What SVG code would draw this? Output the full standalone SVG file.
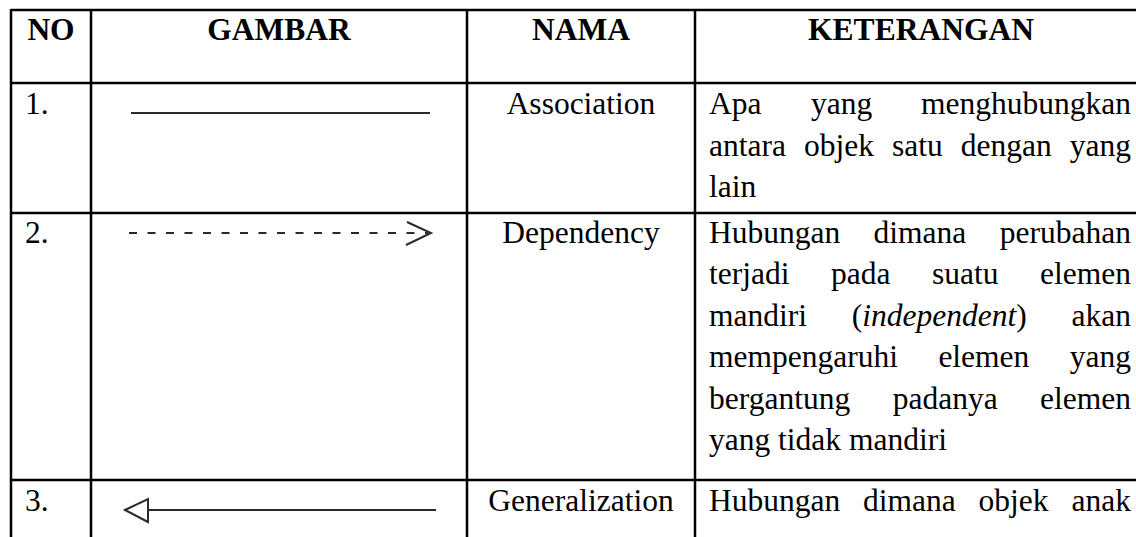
<svg xmlns="http://www.w3.org/2000/svg" width="1136" height="537" viewBox="0 0 1136 537">
  <style>
    text { font-family: "Liberation Serif", "Times New Roman", serif; font-size: 31.5px; fill: #000; }
    .hd { font-weight: bold; text-anchor: middle; }
    .c { text-anchor: middle; }
    .e { text-anchor: end; }
    .it { font-style: italic; }
    .grid line { stroke: #000; stroke-width: 2.5; }
    .sym { stroke: #2a2a2a; stroke-width: 2; fill: none; }
  </style>

  <rect width="1136" height="537" fill="#fff"/>

  <!-- table grid -->
  <g id="grid" class="grid">
    <line x1="11" y1="10" x2="1136" y2="10"/>
    <line x1="11" y1="83" x2="1136" y2="83"/>
    <line x1="11" y1="213" x2="1136" y2="213"/>
    <line x1="11" y1="480" x2="1136" y2="480"/>
    <line x1="11" y1="9" x2="11" y2="537"/>
    <line x1="91" y1="9" x2="91" y2="537"/>
    <line x1="467" y1="9" x2="467" y2="537"/>
    <line x1="695" y1="9" x2="695" y2="537"/>
  </g>

  <!-- header row -->
  <g id="header">
    <text class="hd" x="51" y="40">NO</text>
    <text class="hd" x="279" y="40">GAMBAR</text>
    <text class="hd" x="581" y="40">NAMA</text>
    <text class="hd" x="921" y="40">KETERANGAN</text>
  </g>

  <!-- row 1: association -->
  <g id="row-association">
    <text x="25" y="114">1.</text>
    <text class="c" x="581" y="114">Association</text>
    <text x="709" y="114">Apa</text>
    <text x="811" y="114">yang</text>
    <text class="e" x="1131" y="114">menghubungkan</text>
    <text x="709" y="155.5">antara</text>
    <text x="804" y="155.5">objek</text>
    <text x="892" y="155.5">satu</text>
    <text x="960.8" y="155.5">dengan</text>
    <text class="e" x="1131" y="155.5">yang</text>
    <text x="709" y="197">lain</text>
  </g>

  <!-- row 2: dependency -->
  <g id="row-dependency">
    <text x="25" y="242.5">2.</text>
    <text class="c" x="581" y="242.5">Dependency</text>
    <text x="709" y="242.5">Hubungan</text>
    <text x="873.6" y="242.5">dimana</text>
    <text class="e" x="1131" y="242.5">perubahan</text>
    <text x="709" y="284">terjadi</text>
    <text x="831" y="284">pada</text>
    <text x="932" y="284">suatu</text>
    <text class="e" x="1131" y="284">elemen</text>
    <text x="709" y="325.5">mandiri</text>
    <text x="851.8" y="325.5">(<tspan class="it">independent</tspan>)</text>
    <text class="e" x="1131" y="325.5">akan</text>
    <text x="709" y="367">mempengaruhi</text>
    <text x="938.4" y="367">elemen</text>
    <text class="e" x="1131" y="367">yang</text>
    <text x="709" y="408.5">bergantung</text>
    <text x="892.8" y="408.5">padanya</text>
    <text class="e" x="1131" y="408.5">elemen</text>
    <text x="709" y="450">yang tidak mandiri</text>
  </g>

  <!-- row 3: generalization -->
  <g id="row-generalization">
    <text x="25" y="511">3.</text>
    <text class="c" x="581" y="511">Generalization</text>
    <text x="709" y="511">Hubungan</text>
    <text x="863" y="511">dimana</text>
    <text x="978.6" y="511">objek</text>
    <text class="e" x="1131" y="511">anak</text>
  </g>

  <!-- relationship symbols in the GAMBAR column -->
  <g id="connectors">
    <line class="sym" x1="131" y1="113" x2="430" y2="113"/>
    <line class="sym" x1="129" y1="233" x2="428" y2="233" stroke-dasharray="8 10.5"/>
    <polyline class="sym" points="407,222 431,233 406,245"/>
    <line class="sym" x1="148" y1="510" x2="436" y2="510"/>
    <polygon class="sym" points="125,510 148,499 148,522" fill="#fff"/>
  </g>
</svg>
